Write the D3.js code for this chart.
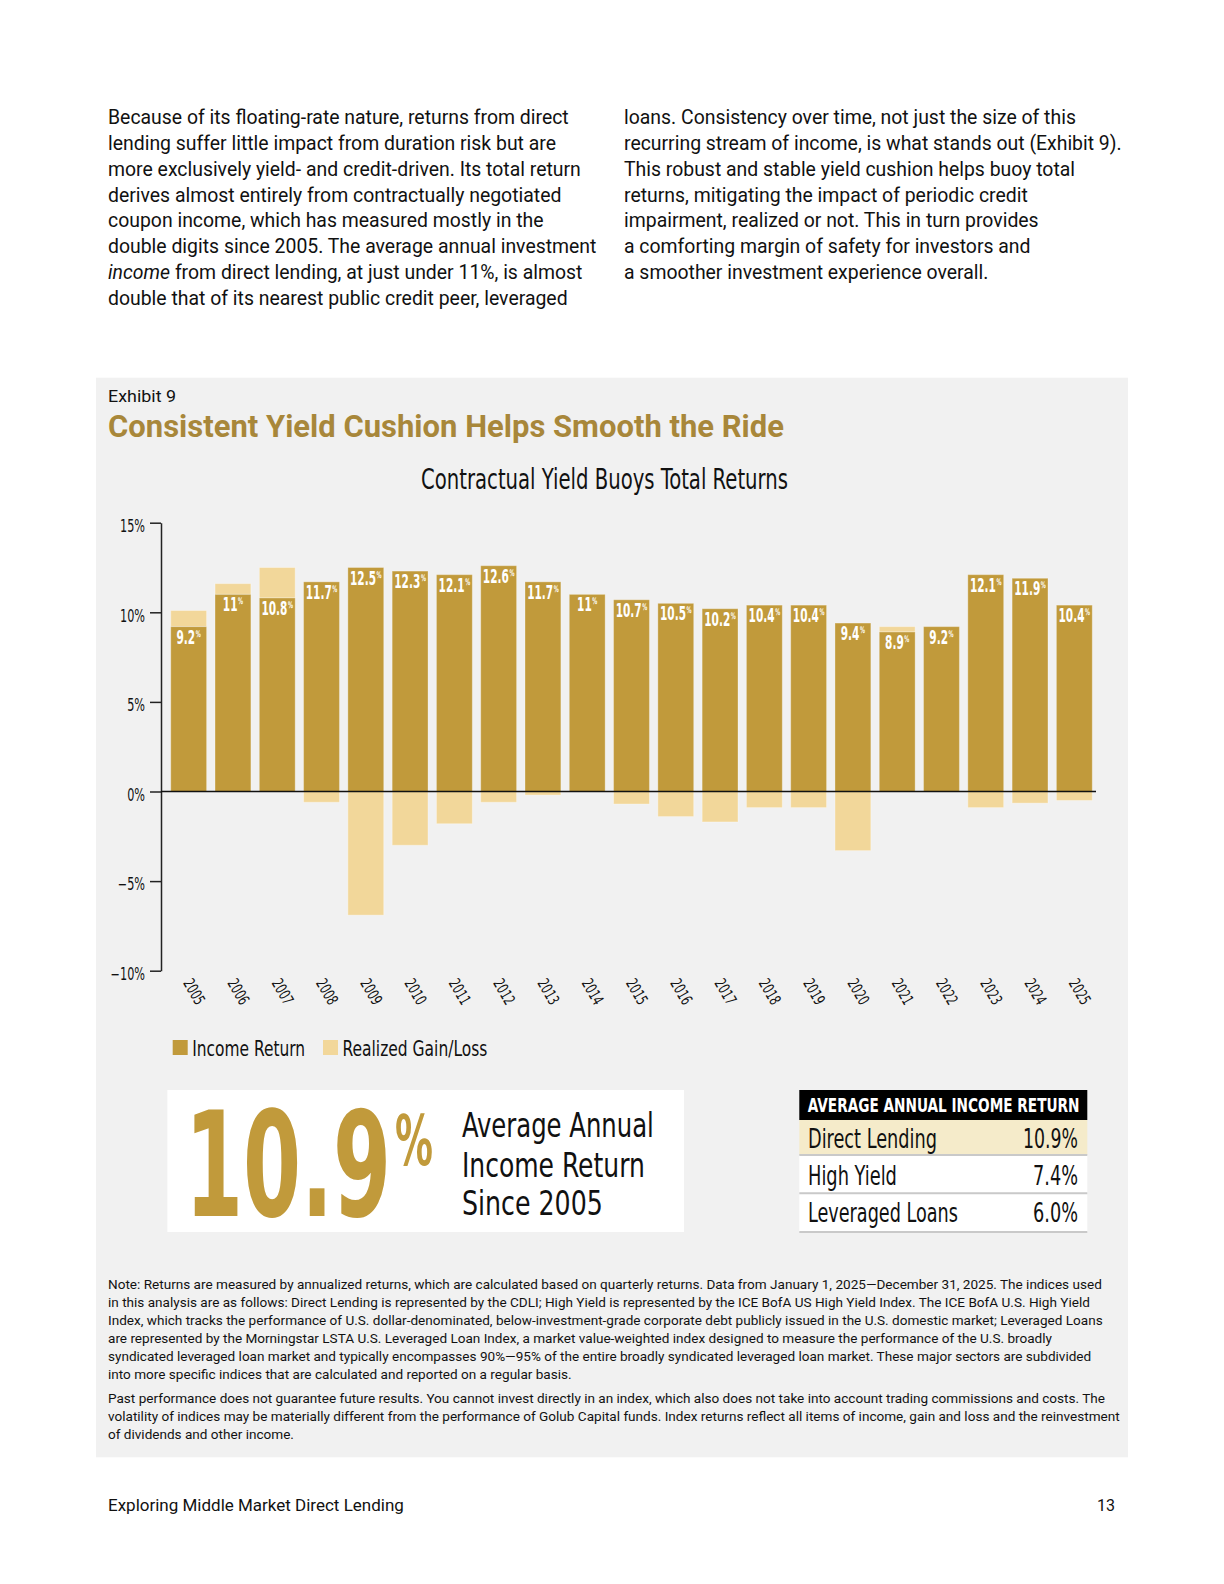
<!DOCTYPE html>
<html><head><meta charset="utf-8">
<script src="https://cdn.jsdelivr.net/npm/d3@7"></script>
<style>body{margin:0;background:#fff} svg{display:block}</style>
</head><body>
<svg id="page" width="1224" height="1584"></svg>
<script>
// ---------------- DATA ----------------
const years = ['2005','2006','2007','2008','2009','2010','2011','2012','2013','2014','2015','2016','2017','2018','2019','2020','2021','2022','2023','2024','2025'];
const incomeReturn = [9.2,11.0,10.8,11.7,12.5,12.3,12.1,12.6,11.7,11.0,10.7,10.5,10.2,10.4,10.4,9.4,8.9,9.2,12.1,11.9,10.4];
const realizedGainLoss = [0.9,0.6,1.7,-0.6,-6.9,-3.0,-1.8,-0.6,-0.2,0,-0.7,-1.4,-1.7,-0.9,-0.9,-3.3,0.3,0,-0.9,-0.65,-0.5];
const yTicks = [-10,-5,0,5,10,15];
const seriesNames = ['Income Return','Realized Gain/Loss'];
const seriesColors = ['#C19A3B','#F2D79A'];
const tableHeader = 'AVERAGE ANNUAL INCOME RETURN';
const tableLabels = ['Direct Lending','High Yield','Leveraged Loans'];
const tableValues = ['10.9%','7.4%','6.0%'];
const averageIncome = '10.9';

const paraLeft = [
  'Because of its floating-rate nature, returns from direct',
  'lending suffer little impact from duration risk but are',
  'more exclusively yield- and credit-driven. Its total return',
  'derives almost entirely from contractually negotiated',
  'coupon income, which has measured mostly in the',
  'double digits since 2005. The average annual investment',
  '*income* from direct lending, at just under 11%, is almost',
  'double that of its nearest public credit peer, leveraged'
];
const paraRight = [
  'loans. Consistency over time, not just the size of this',
  'recurring stream of income, is what stands out (Exhibit 9).',
  'This robust and stable yield cushion helps buoy total',
  'returns, mitigating the impact of periodic credit',
  'impairment, realized or not. This in turn provides',
  'a comforting margin of safety for investors and',
  'a smoother investment experience overall.'
];
const notes1 = [
  'Note: Returns are measured by annualized returns, which are calculated based on quarterly returns. Data from January 1, 2025\u2014December 31, 2025. The indices used',
  'in this analysis are as follows: Direct Lending is represented by the CDLI; High Yield is represented by the ICE BofA US High Yield Index. The ICE BofA U.S. High Yield',
  'Index, which tracks the performance of U.S. dollar-denominated, below-investment-grade corporate debt publicly issued in the U.S. domestic market; Leveraged Loans',
  'are represented by the Morningstar LSTA U.S. Leveraged Loan Index, a market value-weighted index designed to measure the performance of the U.S. broadly',
  'syndicated leveraged loan market and typically encompasses 90%\u201495% of the entire broadly syndicated leveraged loan market. These major sectors are subdivided',
  'into more specific indices that are calculated and reported on a regular basis.'
];
const notes2 = [
  'Past performance does not guarantee future results. You cannot invest directly in an index, which also does not take into account trading commissions and costs. The',
  'volatility of indices may be materially different from the performance of Golub Capital funds. Index returns reflect all items of income, gain and loss and the reinvestment',
  'of dividends and other income.'
];

// ---------------- HELPERS ----------------
const SANS = 'Roboto, "Liberation Sans", Arial, sans-serif';
const COND = '"Liberation Sans Narrow", "Arial Narrow", "DejaVu Sans Condensed", "Roboto Condensed", sans-serif';
const GOLD_T = '#A8873A';
const svg = d3.select('#page');
svg.append('rect').attr('width',1224).attr('height',1584).attr('fill','#fff');

function measure(str, size, family, weight){
  const t = svg.append('text').attr('font-size',size).attr('font-family',family).attr('font-weight',weight||'normal').text(str);
  const w = t.node().getComputedTextLength(); t.remove(); return w;
}
// text placed at (x,y); if opts.width given, horizontally scaled (transform) to that width
function txt(parent, str, x, y, size, family, opts){
  opts = opts||{};
  const t = parent.append('text').attr('x',0).attr('y',0).attr('font-size',size).attr('font-family',family)
    .attr('font-weight',opts.weight||'normal').attr('fill',opts.fill||'#111').attr('text-anchor',opts.anchor||'start').text(str);
  let k = 1;
  if(opts.width){ k = opts.width / t.node().getComputedTextLength(); }
  t.attr('transform',`translate(${x},${y}) scale(${k},1)`);
  return t;
}

// ---------------- TOP PARAGRAPH ----------------
const paraFs = 20 * 489 / measure(paraLeft[5], 20, SANS);
function drawPara(lines, x0, y0){
  const g = svg.append('g');
  lines.forEach((ln,i)=>{
    const t = g.append('text').attr('x',x0).attr('y',y0+i*25.85).attr('font-size',paraFs).attr('font-family',SANS).attr('fill','#111');
    const m = ln.match(/^\*(.+?)\*(.*)$/);
    if(m){ t.append('tspan').attr('font-style','italic').text(m[1]); t.append('tspan').text(m[2]); }
    else t.text(ln);
  });
}
drawPara(paraLeft, 108, 124);
drawPara(paraRight, 624, 124);

// ---------------- PANEL ----------------
svg.append('rect').attr('x',96).attr('y',377.7).attr('width',1032).attr('height',1079.6).attr('fill','#F1F1F1');
txt(svg,'Exhibit 9',108,402,16,SANS,{width:68});
txt(svg,'Consistent Yield Cushion Helps Smooth the Ride',108,437,32,SANS,{weight:'bold',fill:GOLD_T,width:676});
txt(svg,'Contractual Yield Buoys Total Returns',604.5,489,28,COND,{anchor:'middle',width:367});

// ---------------- CHART ----------------
const x = d3.scaleBand().domain(years).range([161,1102]).paddingInner(0.19).paddingOuter(0.22);
const y = d3.scaleLinear().domain([-10,15]).range([970.7,522.7]);
const chart = svg.append('g');

// realized gain / loss bars
chart.append('g').selectAll('rect').data(years).join('rect')
  .attr('x', d=>x(d)).attr('width', x.bandwidth())
  .attr('y', (d,i)=> realizedGainLoss[i] >= 0 ? y(incomeReturn[i]+realizedGainLoss[i]) : y(0))
  .attr('height', (d,i)=> realizedGainLoss[i] >= 0 ? y(incomeReturn[i]) - y(incomeReturn[i]+realizedGainLoss[i]) : y(realizedGainLoss[i]) - y(0))
  .attr('fill', seriesColors[1]).attr('stroke','rgba(255,255,255,0.35)').attr('stroke-width',1);
// income bars
chart.append('g').selectAll('rect').data(years).join('rect')
  .attr('x', d=>x(d)).attr('width', x.bandwidth())
  .attr('y', (d,i)=> y(incomeReturn[i]))
  .attr('height', (d,i)=> y(0) - y(incomeReturn[i]))
  .attr('fill', seriesColors[0]).attr('stroke','rgba(255,255,255,0.3)').attr('stroke-width',1);

// y axis
const kTick = 25 / measure('15%',17,COND);
const yAxis = chart.append('g').attr('transform',`translate(${x.range()[0]},0)`)
  .call(d3.axisLeft(y).tickValues(yTicks).tickSize(11).tickSizeOuter(0).tickPadding(5)
    .tickFormat(d => (d<0?'\u2212':'') + Math.abs(d) + '%'));
yAxis.select('.domain').attr('stroke','#222').attr('stroke-width',1.5);
yAxis.selectAll('.tick line').attr('stroke','#222').attr('stroke-width',1.5);
yAxis.selectAll('.tick text').attr('font-family',COND).attr('font-size',17).attr('fill','#111')
  .attr('x',0).attr('dy','0.52em').attr('transform',`translate(-16,0) scale(${kTick},1)`);

// zero line
chart.append('line').attr('x1',x.range()[0]).attr('x2',x.range()[1]-6).attr('y1',y(0)).attr('y2',y(0))
  .attr('stroke','#111').attr('stroke-width',1.5);

// x axis labels
const kX = 27 / measure('2005',16,COND);
const xAxis = chart.append('g').attr('transform',`translate(0,${y.range()[0]+4})`)
  .call(d3.axisBottom(x).tickSize(0).tickSizeOuter(0));
xAxis.select('.domain').remove();
xAxis.selectAll('.tick text').attr('font-family',COND).attr('font-size',16).attr('fill','#111')
  .attr('text-anchor','start').attr('x',0).attr('y',0).attr('dy',0)
  .attr('transform',`translate(-6,8) rotate(60) scale(${kX},1)`);

// bar value labels (number + small superscript %)
const fmt = v => (v % 1 === 0 ? String(v) : v.toFixed(1));
const kLab = 26 / measure('12.5',19,COND,'bold');
chart.append('g').selectAll('text').data(years).join('text')
  .attr('x',0).attr('y',0)
  .attr('text-anchor','middle').attr('font-family',COND).attr('font-weight','bold')
  .attr('font-size',19).attr('fill','#fff')
  .each(function(d,i){
    const t = d3.select(this);
    t.append('tspan').text(fmt(incomeReturn[i]));
    t.append('tspan').attr('font-size',9).attr('dy',-7).attr('dx',1).text('%');
  })
  .attr('transform',(d,i)=>`translate(${x(d)+x.bandwidth()/2},${y(incomeReturn[i])+17}) scale(${kLab},1)`);

// legend
const legend = svg.append('g');
const legX = [172.7, 323], legW = [113, 145];
seriesNames.forEach((n,i)=>{
  legend.append('rect').attr('x',legX[i]).attr('y',1040).attr('width',15).attr('height',15).attr('fill',seriesColors[i]);
  txt(legend,n,legX[i]+19.5,1055.5,22,COND,{width:legW[i]});
});

// ---------------- BIG NUMBER BOX ----------------
svg.append('rect').attr('x',167.4).attr('y',1090).attr('width',516.6).attr('height',142).attr('fill','#fff');
txt(svg,averageIncome,185,1215.5,147,COND,{weight:'bold',fill:seriesColors[0],width:206});
txt(svg,'%',395,1165,70,COND,{weight:'bold',fill:seriesColors[0],width:38});
const bigLines = ['Average Annual','Income Return','Since 2005'], bigW=[192,183,141], bigY=[1137,1176.5,1215];
bigLines.forEach((l,i)=>txt(svg,l,461.9,bigY[i],33,COND,{fill:'#111',width:bigW[i]}));

// ---------------- TABLE ----------------
const tb = svg.append('g');
tb.append('rect').attr('x',799.3).attr('y',1090).attr('width',288).attr('height',30).attr('fill','#000');
txt(tb,tableHeader,807.7,1111.7,19,COND,{weight:'bold',fill:'#fff',width:272});
const rowY=[1120,1155,1193.3], rowH=[35,38.3,38.7], rowFill=['#F5EBCA','#fff','#fff'];
const labW=[129,89,150], valW=[55,45,45], baseY=[1147.7,1185,1221.7];
tableLabels.forEach((l,i)=>{
  tb.append('rect').attr('x',799.3).attr('y',rowY[i]).attr('width',288).attr('height',rowH[i]).attr('fill',rowFill[i]);
  txt(tb,l,808,baseY[i],27,COND,{width:labW[i]});
  txt(tb,tableValues[i],1078,baseY[i],27,COND,{anchor:'end',width:valW[i]});
});
[1155,1193.3,1232].forEach(yy=>tb.append('line').attr('x1',799.3).attr('x2',1087.3).attr('y1',yy).attr('y2',yy)
  .attr('stroke','#C9C9C9').attr('stroke-width',2));

// ---------------- NOTES ----------------
const noteFs = 0.5 * (13 * 1002 / measure(notes1[0], 13, SANS)) + 0.5 * (13 * 1005 / measure(notes2[1], 13, SANS));
notes1.forEach((l,i)=>svg.append('text').attr('x',108).attr('y',1289.3+i*18).attr('font-size',noteFs).attr('font-family',SANS).attr('fill','#111').text(l));
notes2.forEach((l,i)=>svg.append('text').attr('x',108).attr('y',1403+i*18).attr('font-size',noteFs).attr('font-family',SANS).attr('fill','#111').text(l));

// ---------------- FOOTER ----------------
txt(svg,'Exploring Middle Market Direct Lending',108,1511,16,SANS,{width:296});
txt(svg,'13',1115,1511,16,SANS,{anchor:'end'});
</script>
</body></html>
